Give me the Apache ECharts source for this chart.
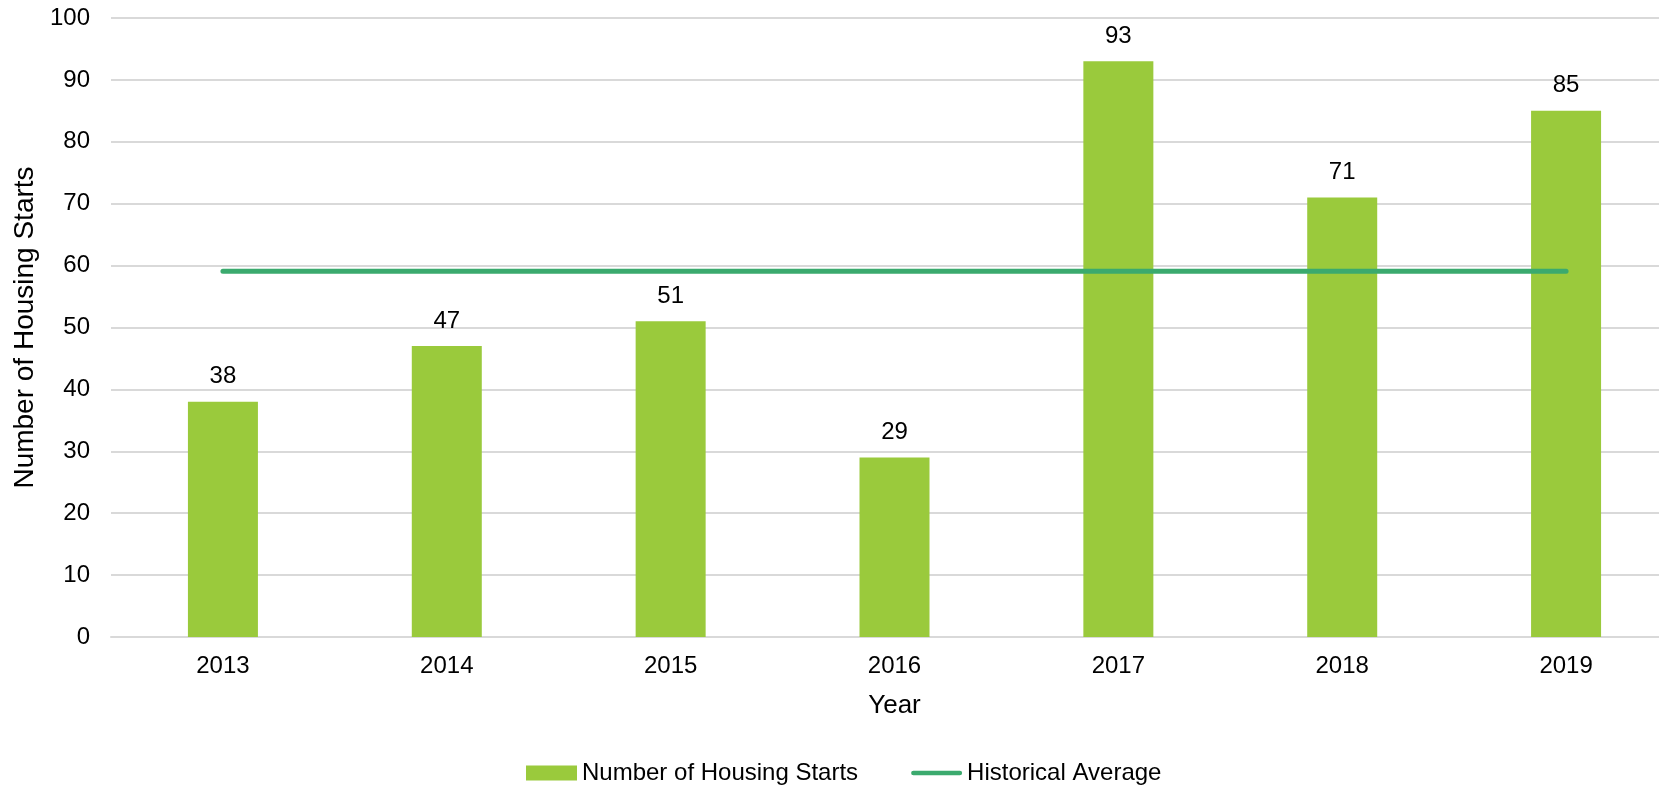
<!DOCTYPE html>
<html><head><meta charset="utf-8">
<script src="https://cdn.jsdelivr.net/npm/echarts@6/dist/echarts.min.js"></script>
<style>html,body{margin:0;padding:0;background:#fff}#c{width:1659px;height:788px}</style>
</head><body><div id="c"></div>
<script>
var categories = ['2013','2014','2015','2016','2017','2018','2019'];
var housingStarts = [38, 47, 51, 29, 93, 71, 85];
var historicalAverage = [59.1, 59.1, 59.1, 59.1, 59.1, 59.1, 59.1];
var yTicks = {min: 0, max: 100, interval: 10};
var FONT = 'Liberation Sans, Arial, sans-serif';
var lineIcon = 'path://M0,0L0,0.01Z M56,15L56,14.99Z M2.5,5L53.5,5A2.5,2.5 0 0 1 53.5,10L2.5,10A2.5,2.5 0 0 1 2.5,5Z';
var chart = echarts.init(document.getElementById('c'), null, {renderer: 'canvas'});
chart.setOption({
  animation: false,
  textStyle: {fontFamily: FONT},
  grid: {left: 111, width: 1567, top: 18, height: 619, containLabel: false, outerBoundsMode: 'none'},
  legend: {
    top: 756, left: 521, itemGap: 53, itemWidth: 51, itemHeight: 15,
    textStyle: {fontFamily: FONT, fontSize: 24, color: '#000'},
    data: [
      {name: 'Number of Housing Starts', icon: 'rect'},
      {name: 'Historical Average', icon: lineIcon, itemStyle: {color: '#3BAA6E', borderWidth: 0}}
    ]
  },
  xAxis: {
    type: 'category', data: categories,
    name: 'Year', nameLocation: 'middle', nameGap: 56,
    nameTextStyle: {fontFamily: FONT, fontSize: 26, color: '#000'},
    axisLine: {show: true, lineStyle: {color: '#d9d9d9', width: 2}},
    axisTick: {show: false},
    axisLabel: {fontFamily: FONT, fontSize: 24, color: '#000', margin: 17}
  },
  yAxis: {
    type: 'value', min: yTicks.min, max: yTicks.max, interval: yTicks.interval,
    name: 'Number of Housing Starts', nameLocation: 'middle', nameGap: 70,
    nameTextStyle: {fontFamily: FONT, fontSize: 28, color: '#000'},
    axisLine: {show: false}, axisTick: {show: false},
    axisLabel: {fontFamily: FONT, fontSize: 24, color: '#000', margin: 21},
    splitLine: {lineStyle: {color: '#d9d9d9', width: 2}}
  },
  series: [
    {
      name: 'Number of Housing Starts', type: 'bar', data: housingStarts,
      barWidth: 70, itemStyle: {color: '#9ACA3C'},
      label: {show: true, position: 'top', distance: 13, fontFamily: FONT, fontSize: 24, color: '#000'}
    },
    {
      name: 'Historical Average', type: 'line', data: historicalAverage,
      symbol: 'none', lineStyle: {color: '#3BAA6E', width: 5, cap: 'round'},
      itemStyle: {color: '#3BAA6E'}, z: 3
    }
  ]
});
</script></body></html>
